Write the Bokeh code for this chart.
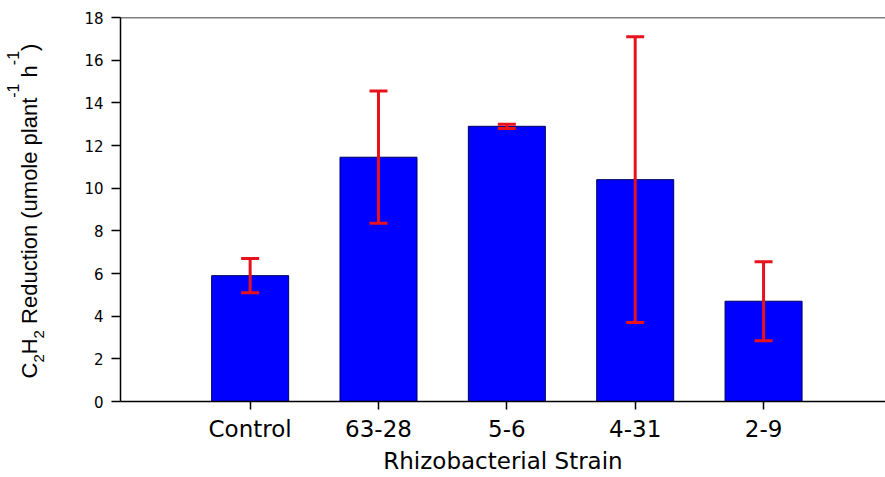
import math
from bokeh.plotting import figure
from bokeh.layouts import row
from bokeh.models import Range1d, FixedTicker, Whisker, TeeHead, ColumnDataSource, Span
from bokeh.core.properties import value
from bokeh.embed import file_html
from bokeh.resources import INLINE

strains = ["Control", "63-28", "5-6", "4-31", "2-9"]
means = [5.9, 11.45, 12.9, 10.4, 4.7]
errors = [0.8, 3.1, 0.1, 6.7, 1.85]
y_ticks = [0, 2, 4, 6, 8, 10, 12, 14, 16, 18]
x_title = "Rhizobacterial Strain"
# y title pieces: (text, kind) kind: n = normal, sub = subscript, sup = superscript
y_title = [("C", "n"), ("2", "sub"), ("H", "n"), ("2", "sub"),
           (" Reduction (umole plant", "n"), ("-1", "sup"), (" h", "n"),
           ("-1", "sup"), (")", "n")]

positions = list(range(1, len(strains) + 1))
src = ColumnDataSource(dict(
    x=positions, top=means,
    upper=[m + e for m, e in zip(means, errors)],
    lower=[m - e for m, e in zip(means, errors)],
))

W, H = 885, 477
LW = 70                     # width of the side panel holding the y title
FL, FR, FT, FB = 120, 885, 17, 401
X0, X1 = -0.01, 5.95
Y0, Y1 = 0, 18

FONT = "DejaVu Sans"
p = figure(width=W - LW, height=H, output_backend="svg", toolbar_location=None,
           x_range=Range1d(X0, X1), y_range=Range1d(Y0, Y1),
           min_border_left=FL - LW, min_border_right=W - FR, min_border_top=FT,
           min_border_bottom=H - FB)
p.outline_line_color = None
p.grid.visible = False

p.vbar(x="x", top="top", width=0.6, bottom=0, source=src,
       fill_color="#0000ff", line_color="#000060", line_width=1)

RED = "#e8121c"
whisk = Whisker(source=src, base="x", upper="upper", lower="lower",
                line_color=RED, line_width=3, level="overlay",
                upper_head=TeeHead(size=18, line_color=RED, line_width=3),
                lower_head=TeeHead(size=18, line_color=RED, line_width=3))
p.add_layout(whisk)

p.add_layout(Span(location=Y1, dimension="width", line_color="black", line_width=1.5))

p.xaxis.ticker = FixedTicker(ticks=positions)
p.xaxis.major_label_overrides = {pos: s for pos, s in zip(positions, strains)}
p.yaxis.ticker = FixedTicker(ticks=y_ticks)
for ax in (p.xaxis, p.yaxis):
    ax.axis_line_color = "black"
    ax.axis_line_width = 1.5
    ax.major_tick_line_color = "black"
    ax.major_tick_line_width = 1.5
    ax.major_tick_in = 0
    ax.minor_tick_line_color = None
    ax.major_label_text_font = FONT
    ax.axis_label_text_font = FONT
    ax.axis_label_text_font_style = "normal"
    ax.major_label_text_color = "black"
    ax.axis_label_text_color = "black"

p.xaxis.major_tick_out = 8
p.xaxis.major_label_text_font_size = "23px"
p.xaxis.major_label_standoff = 6
p.xaxis.axis_label = x_title
p.xaxis.axis_label_text_font_size = "23px"
p.xaxis.axis_label_standoff = 3

p.yaxis.major_tick_out = 9
p.yaxis.major_label_text_font_size = "15px"
p.yaxis.major_label_standoff = 8

# side panel with the composed, rotated y title (real sub/superscripts);
# its frame spans the same rows as the main frame (FT..FB)
t = figure(width=LW, height=H, output_backend="svg", toolbar_location=None,
           x_range=Range1d(0, LW), y_range=Range1d(0, FB - FT),
           x_axis_location=None, y_axis_location=None,
           min_border_left=0, min_border_right=0, min_border_top=FT,
           min_border_bottom=H - FB)
t.outline_line_color = None
t.grid.visible = False

# approximate Arial / Liberation Sans advance widths (per em)
ADV = {"C": .722, "H": .722, "2": .556, " ": .278, "R": .722, "e": .556, "d": .556,
       "u": .556, "c": .5, "t": .278, "i": .222, "o": .556, "n": .556, "(": .333,
       "m": .833, "l": .222, "p": .556, "a": .556, "h": .556, "-": .333, "1": .556,
       ")": .333}
SIZES = {"n": 22, "sub": 15, "sup": 16}
BASE = {"n": 29, "sub": 38, "sup": 12}
xs, ys, texts, sizes = [], [], [], []
pos_y = 378.0
for txt, kind in y_title:
    fs = SIZES[kind]
    lead = len(txt) - len(txt.lstrip(" "))      # SVG drops leading blanks
    shown = txt.lstrip(" ")
    xs.append(BASE[kind])
    ys.append(FB - (pos_y - lead * ADV[" "] * fs))
    texts.append(shown)
    sizes.append(f"{fs}px")
    pos_y -= sum(ADV.get(ch, .556) for ch in txt) * fs
tsrc = ColumnDataSource(dict(x=xs, y=ys, text=texts, size=sizes))
t.text(x="x", y="y", text="text", source=tsrc, angle=math.pi / 2,
       text_font=value("Liberation Sans"), text_font_size="size",
       text_color="black", text_align="left", text_baseline="alphabetic")

layout = row(t, p, spacing=0)
open("out.html", "w").write(file_html(layout, INLINE))
